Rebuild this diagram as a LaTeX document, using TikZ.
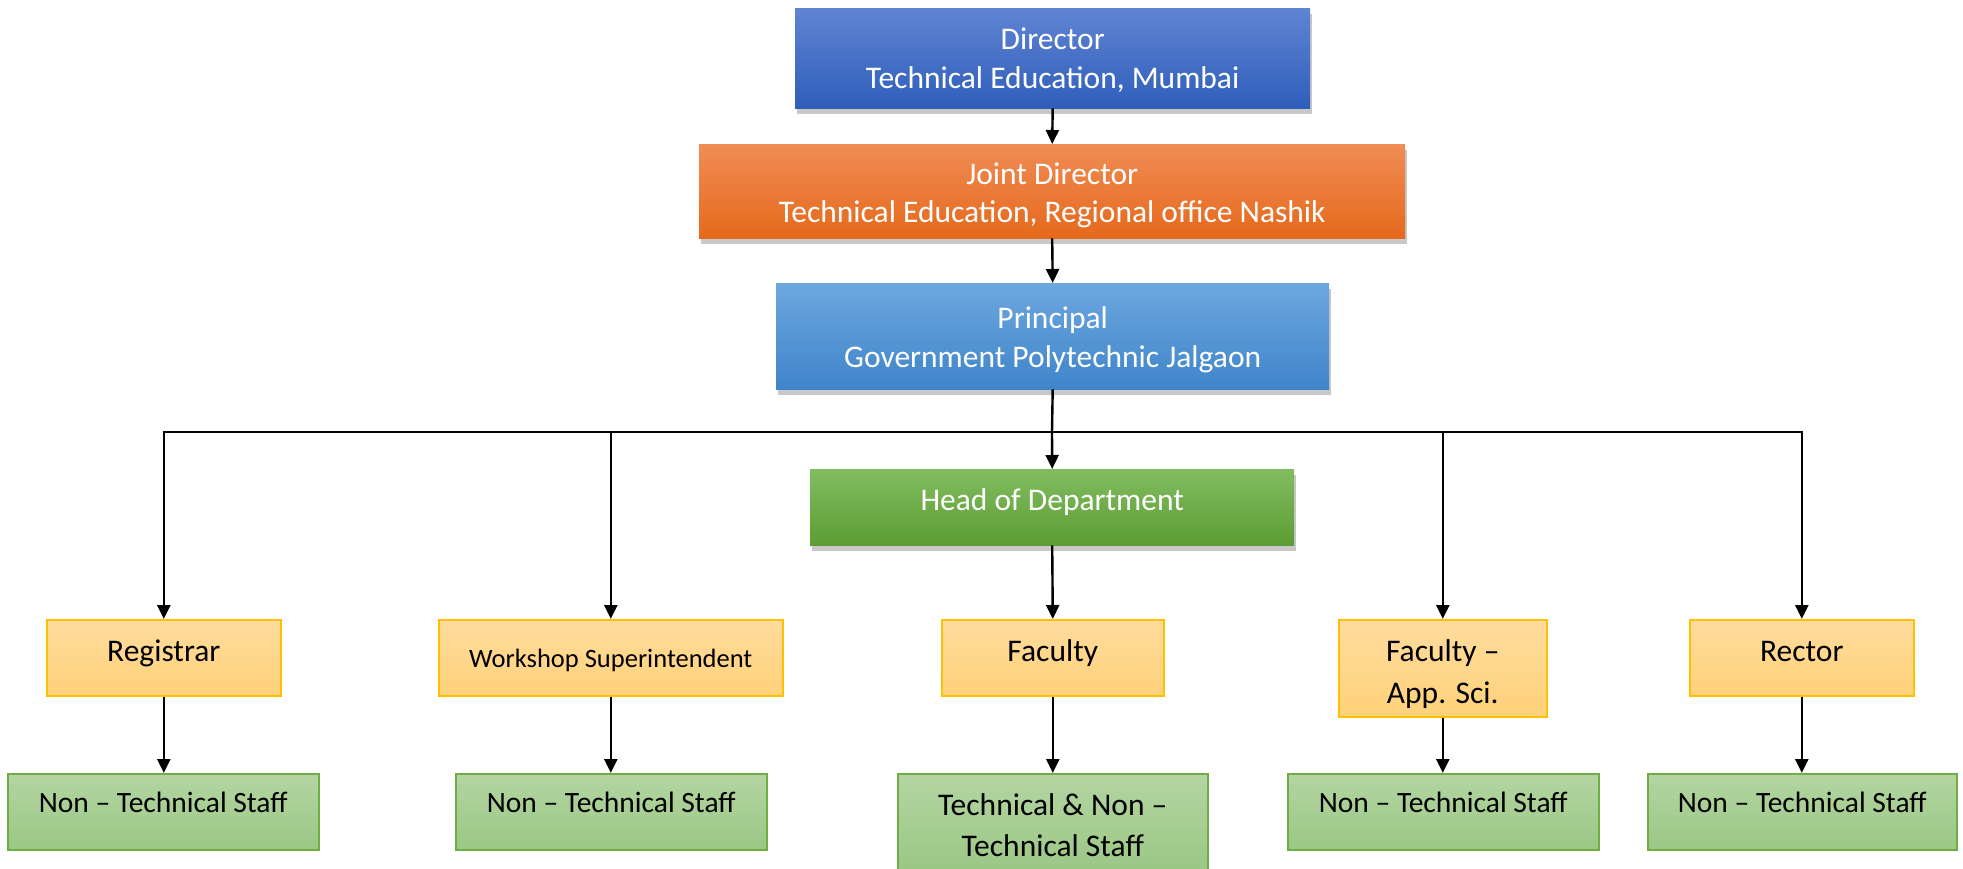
\documentclass[tikz,border=0pt]{standalone}
\usepackage{fontspec}
\setmainfont{Carlito}
\usetikzlibrary{arrows.meta,shadows,calc}
\definecolor{dirT}{HTML}{5F84D3}
\definecolor{dirB}{HTML}{2F5EBA}
\definecolor{jdT}{HTML}{F08C55}
\definecolor{jdB}{HTML}{E5691B}
\definecolor{prT}{HTML}{6DA7DF}
\definecolor{prB}{HTML}{3F85CA}
\definecolor{hodT}{HTML}{82BC60}
\definecolor{hodB}{HTML}{5C9D33}
\definecolor{yelT}{HTML}{FFDC9E}
\definecolor{yelB}{HTML}{FFD179}
\definecolor{yelD}{HTML}{FFC000}
\definecolor{grnT}{HTML}{B4D5A2}
\definecolor{grnB}{HTML}{9AC784}
\definecolor{grnD}{HTML}{70AD47}
\begin{document}
\begin{tikzpicture}[x=1pt,y=-1pt,
  box/.style={rectangle, inner sep=0pt, anchor=north west},
  topbox/.style={box, draw=none, drop shadow={shadow xshift=2pt, shadow yshift=-6pt, opacity=0.3, fill=black!70}},
  yelbox/.style={box, draw=yelD, line width=1.6pt, top color=yelT, bottom color=yelB},
  grnbox/.style={box, draw=grnD, line width=1.6pt, top color=grnT, bottom color=grnB},
  txt/.style={inner sep=0pt, anchor=base, font=\fontsize{31.5}{39}\selectfont},
  wtxt/.style={txt, text=white},
  arr/.style={line width=2.4pt, -{Triangle[length=14pt,width=13pt]}},
  ln/.style={line width=2.4pt}]
\useasboundingbox (0,0) rectangle (1963,869);
\fill[white] (0,0) rectangle (1963,869);

% top chain
\node[topbox, top color=dirT, bottom color=dirB, minimum width=515pt, minimum height=100pt] (dir) at (795,8) {};
\node[topbox, top color=jdT, bottom color=jdB, minimum width=706pt, minimum height=94pt] (jd) at (699,144) {};
\node[topbox, top color=prT, bottom color=prB, minimum width=553pt, minimum height=106pt] (pr) at (776,283) {};
\node[topbox, top color=hodT, bottom color=hodB, minimum width=484pt, minimum height=76pt] (hod) at (810,469) {};

\node[wtxt] (dirt) at ($(dir.north)+(0,42)$) {\parbox[t]{700pt}{\centering Director\\Technical Education, Mumbai}};
\node[wtxt, font=\fontsize{31.5}{38}\selectfont] (jdt) at ($(jd.north)+(0,41)$) {\parbox[t]{700pt}{\centering Joint Director\\Technical Education, Regional office Nashik}};
\node[wtxt] (prt) at ($(pr.north)+(0,45)$) {\parbox[t]{700pt}{\centering Principal\\Government Polytechnic Jalgaon}};
\node[wtxt] (hodt) at ($(hod.north)+(0,41)$) {Head of Department};

% second level
\node[yelbox, minimum width=234pt, minimum height=76pt] (reg) at (46,619) {};
\node[yelbox, minimum width=344pt, minimum height=76pt] (ws) at (438,619) {};
\node[yelbox, minimum width=222pt, minimum height=76pt] (fac) at (941,619) {};
\node[yelbox, minimum width=208pt, minimum height=97pt] (fa) at (1338,619) {};
\node[yelbox, minimum width=224pt, minimum height=76pt] (rec) at (1689,619) {};

\node[txt] (regt) at ($(reg.north)+(0,42)$) {Registrar};
\node[txt, font=\fontsize{26.5}{32}\selectfont] (wst) at ($(ws.north)+(0,48)$) {Workshop Superintendent};
\node[txt] (fact) at ($(fac.north)+(0,42)$) {Faculty};
\node[txt, font=\fontsize{31.5}{42}\selectfont] (fat) at ($(fa.north)+(0,42)$) {\parbox[t]{300pt}{\centering Faculty –\\App. Sci.}};
\node[txt] (rect) at ($(rec.north)+(0,42)$) {Rector};

% bottom level
\node[grnbox, minimum width=311pt, minimum height=76pt] (nt1) at (7,773) {};
\node[grnbox, minimum width=311pt, minimum height=76pt] (nt2) at (455,773) {};
\node[grnbox, minimum width=310pt, minimum height=100pt] (tn) at (897,773) {};
\node[grnbox, minimum width=311pt, minimum height=76pt] (nt4) at (1287,773) {};
\node[grnbox, minimum width=309pt, minimum height=76pt] (nt5) at (1647,773) {};

\node[txt, font=\fontsize{29.5}{36}\selectfont] (nt1t) at ($(nt1.north)+(0,39)$) {Non – Technical Staff};
\node[txt, font=\fontsize{29.5}{36}\selectfont] (nt2t) at ($(nt2.north)+(0,39)$) {Non – Technical Staff};
\node[txt, font=\fontsize{31.5}{41}\selectfont] (tnt) at ($(tn.north)+(0,42)$) {\parbox[t]{400pt}{\centering Technical \& Non –\\Technical Staff}};
\node[txt, font=\fontsize{29.5}{36}\selectfont] (nt4t) at ($(nt4.north)+(0,39)$) {Non – Technical Staff};
\node[txt, font=\fontsize{29.5}{36}\selectfont] (nt5t) at ($(nt5.north)+(0,39)$) {Non – Technical Staff};

% connectors
\coordinate (bus) at (1052,432);
\draw[arr] (dir.south) -- (jd.north);
\draw[arr] (jd.south) -- (pr.north);
\draw[ln] (pr.south) -- (bus);
\draw[arr] (bus) -- (hod.north);
\draw[arr] (bus) -| (reg.north);
\draw[arr] (bus) -| (ws.north);
\draw[arr] (bus) -| (fa.north);
\draw[arr] (bus) -| (rec.north);
\draw[arr] (hod.south) -- (fac.north);
\draw[arr] (reg.south) -- (reg.south |- nt1.north);
\draw[arr] (ws.south) -- (ws.south |- nt2.north);
\draw[arr] (fac.south) -- (fac.south |- tn.north);
\draw[arr] (fa.south) -- (fa.south |- nt4.north);
\draw[arr] (rec.south) -- (rec.south |- nt5.north);
\end{tikzpicture}
\end{document}
